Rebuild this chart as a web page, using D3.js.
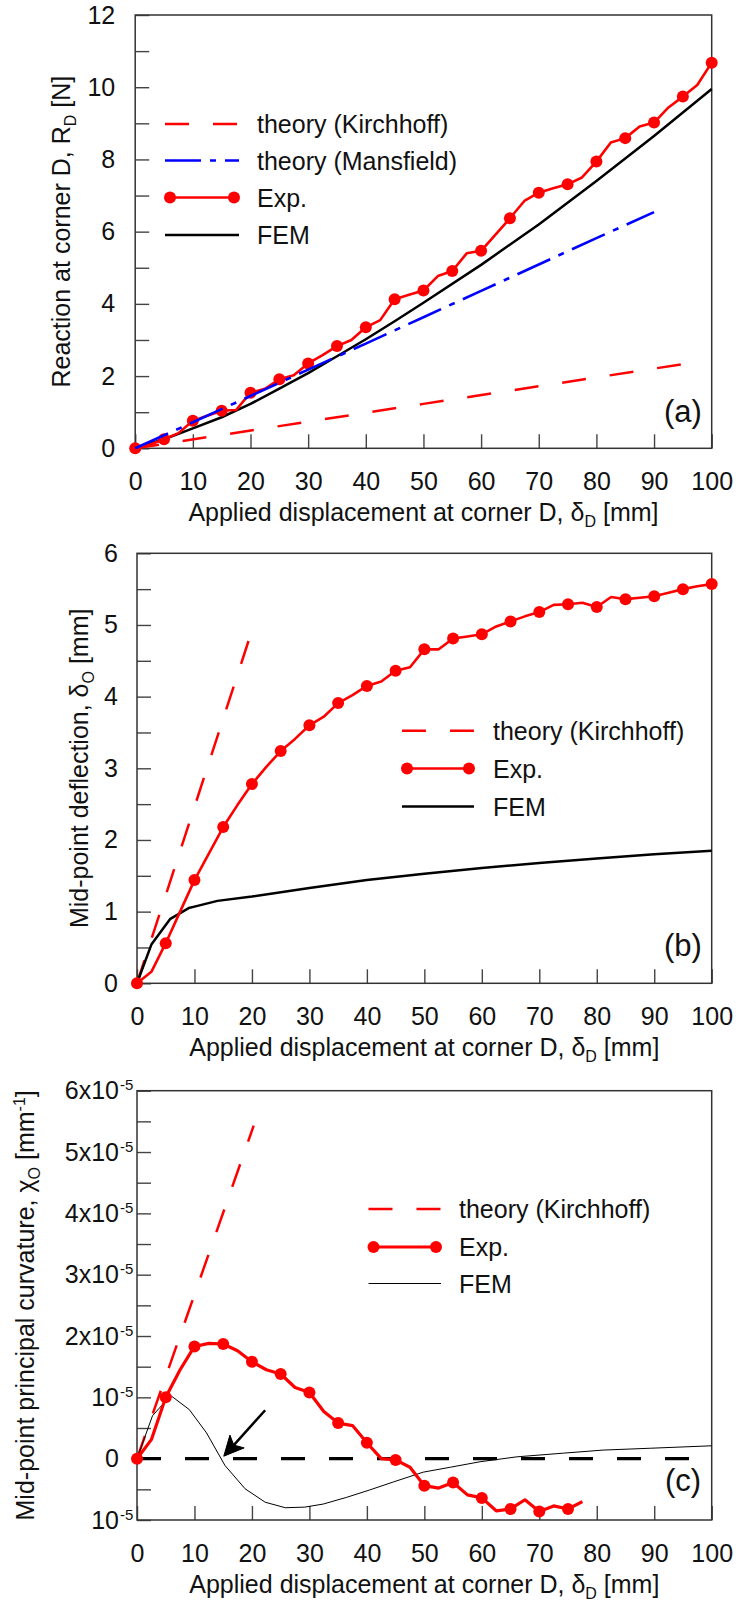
<!DOCTYPE html>
<html>
<head>
<meta charset="utf-8">
<script src="https://cdn.jsdelivr.net/npm/d3@7"></script>
<style>
  html, body { margin: 0; padding: 0; background: #fff; }
  svg { display: block; font-family: "Liberation Sans", Arial, sans-serif; }
</style>
</head>
<body>
<svg id="chart" width="736" height="1602"></svg>
<script>
// ---------------- data ----------------
// shared x axis: applied displacement at corner D [mm]
const xTicks = [0, 10, 20, 30, 40, 50, 60, 70, 80, 90, 100];

// (a) reaction at corner D [N]
const yTicksA = [0, 1, 2, 3, 4, 5, 6, 7, 8, 9, 10, 11, 12];
const yLabelsA = [0, 2, 4, 6, 8, 10, 12];

const kirchA_x = [0, 50, 95];
const kirchA_y = [0, 1.23, 2.33];

const mansA_x = [0, 10, 20, 30, 40, 50, 60, 70, 80, 90];
const mansA_y = [0, 0.72, 1.45, 2.18, 2.9, 3.63, 4.36, 5.09, 5.82, 6.54];

const expA_x = [0, 2.5, 5, 7.5, 10, 12.5, 15, 17.5, 20, 22.5, 25, 27.5, 30, 32.5, 35, 37.5, 40,
  42.5, 45, 47.5, 50, 52.5, 55, 57.5, 60, 62.5, 65, 67.5, 70, 72.5, 75, 77.5, 80, 82.5, 85,
  87.5, 90, 92.5, 95, 97.5, 100];
const expA_y = [0, 0.1, 0.25, 0.42, 0.76, 0.9, 1.04, 1.06, 1.54, 1.65, 1.91, 2.02, 2.35, 2.58,
  2.83, 3.0, 3.35, 3.55, 4.13, 4.25, 4.37, 4.77, 4.91, 5.4, 5.47, 5.92, 6.37, 6.85, 7.08, 7.2,
  7.31, 7.5, 7.94, 8.47, 8.59, 8.91, 9.02, 9.44, 9.74, 10.06, 10.68];

const femA_x = [0, 5, 10, 15, 20, 25, 30, 35, 40, 45, 50, 60, 70, 80, 90, 100];
const femA_y = [0, 0.25, 0.55, 0.86, 1.23, 1.65, 2.08, 2.55, 3.02, 3.52, 4.03, 5.08, 6.2, 7.4, 8.65, 9.95];

// (b) mid-point deflection [mm]
const yTicksB = [0, 0.5, 1, 1.5, 2, 2.5, 3, 3.5, 4, 4.5, 5, 5.5, 6];
const yLabelsB = [0, 1, 2, 3, 4, 5, 6];

const kirchB_x = [0, 19.5];
const kirchB_y = [0, 4.8];

const expB_x = expA_x;
const expB_y = [0, 0.16, 0.56, 1.0, 1.44, 1.81, 2.18, 2.49, 2.78, 3.02, 3.24, 3.41, 3.6, 3.72,
  3.91, 4.02, 4.15, 4.21, 4.36, 4.41, 4.66, 4.66, 4.81, 4.84, 4.87, 4.98, 5.05, 5.12, 5.18,
  5.28, 5.29, 5.31, 5.25, 5.39, 5.36, 5.38, 5.4, 5.45, 5.5, 5.54, 5.57];

const femB_x = [0, 2.5, 5.8, 9, 10, 14, 20, 30, 40, 50, 60, 70, 80, 90, 100];
const femB_y = [0, 0.54, 0.9, 1.05, 1.07, 1.15, 1.21, 1.33, 1.44, 1.53, 1.61, 1.68, 1.74, 1.8, 1.85];

// (c) mid-point principal curvature [1/mm]
const yTicksC = [-1e-5, -0.5e-5, 0, 0.5e-5, 1e-5, 1.5e-5, 2e-5, 2.5e-5, 3e-5, 3.5e-5, 4e-5,
  4.5e-5, 5e-5, 5.5e-5, 6e-5];
const yLabelValsC = [-1e-5, 0, 1e-5, 2e-5, 3e-5, 4e-5, 5e-5, 6e-5];
const yLabelBaseC = ["10", "0", "10", "2x10", "3x10", "4x10", "5x10", "6x10"];
const yLabelExpC = ["-5", "", "-5", "-5", "-5", "-5", "-5", "-5"];

const kirchC_x = [0, 20.3];
const kirchC_y = [0, 5.43e-5];

const expC_x = [0, 2.5, 5, 7.5, 10, 12.5, 15, 17.5, 20, 22.5, 25, 27.5, 30, 32.5, 35, 37.5, 40,
  42.5, 45, 47.5, 50, 52.5, 55, 57.5, 60, 62.5, 65, 67.5, 70, 72.5, 75, 77.5];
const expC_y = [0, 0.31e-5, 1.0e-5, 1.45e-5, 1.83e-5, 1.88e-5, 1.87e-5, 1.76e-5, 1.58e-5,
  1.45e-5, 1.38e-5, 1.16e-5, 1.08e-5, 0.77e-5, 0.58e-5, 0.54e-5, 0.26e-5, 0.0, -0.02e-5,
  -0.14e-5, -0.44e-5, -0.48e-5, -0.39e-5, -0.59e-5, -0.64e-5, -0.85e-5, -0.82e-5, -0.67e-5,
  -0.86e-5, -0.77e-5, -0.82e-5, -0.7e-5];

const femC_x = [0, 2.7, 4.9, 6, 9.1, 12.1, 15.3, 18.8, 22.3, 25.8, 29.2, 32.4, 36.5, 40.5, 44.6,
  49.8, 54.5, 59.7, 66.1, 74.2, 81.1, 89.3, 100];
const femC_y = [0, 0.7e-5, 0.93e-5, 1.02e-5, 0.8e-5, 0.42e-5, -0.11e-5, -0.49e-5, -0.71e-5,
  -0.8e-5, -0.79e-5, -0.74e-5, -0.63e-5, -0.51e-5, -0.38e-5, -0.22e-5, -0.14e-5, -0.05e-5,
  0.03e-5, 0.09e-5, 0.14e-5, 0.17e-5, 0.21e-5];

const zeroC_x = [0, 100];
const zeroC_y = [0, 0];

// arrow pointing at the FEM sign change (tail, tip) in data units
const arrowC = { x0: 22.3, y0: 0.79e-5, x1: 15.1, y1: 0.04e-5 };

// ---------------- styles ----------------
const RED = "#ff0000", BLUE = "#0000ff", BLACK = "#000000";
const FONT = 25;
const styles = {
  kirch: { color: RED, width: 2.5, dash: "24,24" },
  mans: { color: BLUE, width: 2.6, dash: "36,9,6,9" },
  exp: { color: RED, width: 2.6, marker: 6 },
  expC: { color: RED, width: 3.2, marker: 6 },
  fem: { color: BLACK, width: 2.5 },
  femThin: { color: BLACK, width: 1 },
  zero: { color: BLACK, width: 3.4, dash: "24,24" }
};

const svg = d3.select("#chart");

function addRichText(sel, parts) {
  // parts: [text, kind] where kind is "", "sub" or "sup"
  let shift = 0;
  parts.forEach(([t, kind]) => {
    const target = kind === "sub" ? 6 : kind === "sup" ? -9 : 0;
    sel.append("tspan")
      .attr("dy", target - shift)
      .attr("font-size", kind ? 16 : FONT)
      .text(t);
    shift = target;
  });
}

function drawSeries(g, x, y, xs, ys, st, markerEvery) {
  const pts = xs.map((d, i) => [d, ys[i]]);
  g.append("path")
    .datum(pts)
    .attr("d", d3.line().x(d => x(d[0])).y(d => y(d[1])))
    .attr("fill", "none")
    .attr("stroke", st.color)
    .attr("stroke-width", st.width)
    .attr("stroke-dasharray", st.dash || null)
    .attr("stroke-linejoin", "round");
  if (st.marker) {
    g.selectAll(null)
      .data(pts.filter(d => d[0] % markerEvery === 0))
      .join("circle")
      .attr("cx", d => x(d[0]))
      .attr("cy", d => y(d[1]))
      .attr("r", st.marker)
      .attr("fill", st.color);
  }
}

function drawLegend(g, items, lx0, lx1, tx, rows) {
  items.forEach((it, i) => {
    const yy = rows[i];
    g.append("line")
      .attr("x1", lx0).attr("x2", lx1).attr("y1", yy).attr("y2", yy)
      .attr("stroke", it.style.color)
      .attr("stroke-width", it.style.width)
      .attr("stroke-dasharray", it.style.dash || null);
    if (it.style.marker) {
      [lx0 + 5, lx1 - 5].forEach(cx => g.append("circle")
        .attr("cx", cx).attr("cy", yy).attr("r", it.style.marker).attr("fill", it.style.color));
    }
    g.append("text")
      .attr("x", tx).attr("y", yy).attr("dy", "0.36em")
      .attr("font-size", FONT).attr("fill", "#111")
      .text(it.label);
  });
}

function panel(cfg) {
  const g = svg.append("g");
  const x = d3.scaleLinear().domain([0, 100]).range([cfg.left, cfg.right]);
  const y = d3.scaleLinear().domain(cfg.yDomain).range([cfg.bottom, cfg.top]);

  // x axis, ticks pointing into the plot
  const gx = g.append("g")
    .attr("transform", `translate(0,${cfg.bottom})`)
    .call(d3.axisBottom(x).tickValues(xTicks).tickSizeInner(-14).tickSizeOuter(0)
      .tickPadding(24).tickFormat(d3.format("d")));
  gx.select(".domain").remove();
  gx.attr("font-size", FONT).attr("font-family", null);
  gx.selectAll(".tick line").attr("stroke", "#444").attr("stroke-width", 1.4);
  gx.selectAll(".tick text").attr("fill", "#111");

  // y axis, ticks pointing into the plot; labels only on major values
  const gy = g.append("g")
    .attr("transform", `translate(${cfg.left},0)`)
    .call(d3.axisLeft(y).tickValues(cfg.yTicks).tickSizeInner(-14).tickSizeOuter(0)
      .tickPadding(cfg.labelPad).tickFormat(() => ""));
  gy.select(".domain").remove();
  gy.attr("font-size", FONT).attr("font-family", null);
  gy.selectAll(".tick line").attr("stroke", "#444").attr("stroke-width", 1.4);
  gy.selectAll(".tick").each(function (d) {
    const idx = cfg.yLabelVals.findIndex(v => Math.abs(v - d) < 1e-12);
    const t = d3.select(this).select("text");
    if (idx < 0) return;
    t.attr("fill", "#111").text(cfg.yLabelBase[idx]);
    const ex = cfg.yLabelExp ? cfg.yLabelExp[idx] : "";
    if (ex) {
      d3.select(this).append("text")
        .attr("x", -cfg.labelPad + 1).attr("y", 0).attr("dy", "-0.05em")
        .attr("font-size", 15).attr("fill", "#111").attr("text-anchor", "start")
        .text(ex);
    }
  });

  // plot frame
  g.append("rect")
    .attr("x", cfg.left).attr("y", cfg.top)
    .attr("width", cfg.right - cfg.left).attr("height", cfg.bottom - cfg.top)
    .attr("fill", "none").attr("stroke", "#333").attr("stroke-width", 1.5);

  // x axis title
  const xt = g.append("text")
    .attr("x", (cfg.left + cfg.right) / 2).attr("y", cfg.bottom + 73)
    .attr("text-anchor", "middle").attr("font-size", FONT).attr("fill", "#111");
  addRichText(xt, [["Applied displacement at corner D, \u03b4", ""], ["D", "sub"], [" [mm]", ""]]);

  // y axis title
  const yt = g.append("text")
    .attr("transform", `translate(${cfg.yTitleX},${(cfg.top + cfg.bottom) / 2}) rotate(-90)`)
    .attr("y", 9).attr("text-anchor", "middle").attr("font-size", FONT).attr("fill", "#111");
  addRichText(yt, cfg.yTitle);

  // panel tag
  g.append("text")
    .attr("x", 683).attr("y", cfg.tagY).attr("dy", "0.36em")
    .attr("text-anchor", "middle").attr("font-size", 31).attr("fill", "#111")
    .text(cfg.tag);

  return { g, x, y };
}

// ---------------- (a) ----------------
{
  const { g, x, y } = panel({
    left: 135.2, right: 711.7, top: 15, bottom: 448.3,
    yDomain: [0, 12], yTicks: yTicksA,
    yLabelVals: yLabelsA, yLabelBase: yLabelsA.map(String), labelPad: 20,
    yTitleX: 61,
    yTitle: [["Reaction at corner D, R", ""], ["D", "sub"], [" [N]", ""]],
    tag: "(a)", tagY: 411
  });
  drawSeries(g, x, y, kirchA_x, kirchA_y, styles.kirch);
  drawSeries(g, x, y, femA_x, femA_y, styles.fem);
  drawSeries(g, x, y, expA_x, expA_y, styles.exp, 5);
  drawSeries(g, x, y, mansA_x, mansA_y, styles.mans);
  drawLegend(g, [
    { label: "theory (Kirchhoff)", style: styles.kirch },
    { label: "theory (Mansfield)", style: styles.mans },
    { label: "Exp.", style: styles.exp },
    { label: "FEM", style: styles.fem }
  ], 165, 239, 257, [124, 160.5, 197.5, 235]);
}

// ---------------- (b) ----------------
{
  const { g, x, y } = panel({
    left: 137, right: 711.7, top: 553.3, bottom: 983.3,
    yDomain: [0, 6], yTicks: yTicksB,
    yLabelVals: yLabelsB, yLabelBase: yLabelsB.map(String), labelPad: 19,
    yTitleX: 79,
    yTitle: [["Mid-point deflection, \u03b4", ""], ["O", "sub"], [" [mm]", ""]],
    tag: "(b)", tagY: 945
  });
  drawSeries(g, x, y, kirchB_x, kirchB_y, styles.kirch);
  drawSeries(g, x, y, femB_x, femB_y, styles.fem);
  drawSeries(g, x, y, expB_x, expB_y, styles.exp, 5);
  drawLegend(g, [
    { label: "theory (Kirchhoff)", style: styles.kirch },
    { label: "Exp.", style: styles.exp },
    { label: "FEM", style: styles.fem }
  ], 402, 474, 493, [730.7, 768.5, 806.5]);
}

// ---------------- (c) ----------------
{
  const { g, x, y } = panel({
    left: 137, right: 711.7, top: 1090.7, bottom: 1520,
    yDomain: [-1e-5, 6e-5], yTicks: yTicksC,
    yLabelVals: yLabelValsC, yLabelBase: yLabelBaseC, yLabelExp: yLabelExpC, labelPad: 18,
    yTitleX: 25,
    yTitle: [["Mid-point principal curvature, \u03c7", ""], ["O", "sub"], [" [mm", ""], ["-1", "sup"], ["]", ""]],
    tag: "(c)", tagY: 1480
  });
  drawSeries(g, x, y, kirchC_x, kirchC_y, styles.kirch);
  drawSeries(g, x, y, femC_x, femC_y, styles.femThin);
  drawSeries(g, x, y, zeroC_x, zeroC_y, styles.zero);
  drawSeries(g, x, y, expC_x, expC_y, styles.expC, 5);

  // arrow
  const ax0 = x(arrowC.x0), ay0 = y(arrowC.y0), ax1 = x(arrowC.x1), ay1 = y(arrowC.y1);
  const ang = Math.atan2(ay0 - ay1, ax0 - ax1);
  const headLen = 22, spread = 0.45;
  const w1 = [ax1 + headLen * Math.cos(ang + spread), ay1 + headLen * Math.sin(ang + spread)];
  const w2 = [ax1 + headLen * Math.cos(ang - spread), ay1 + headLen * Math.sin(ang - spread)];
  const notch = [ax1 + 15 * Math.cos(ang), ay1 + 15 * Math.sin(ang)];
  g.append("line")
    .attr("x1", ax0).attr("y1", ay0).attr("x2", notch[0]).attr("y2", notch[1])
    .attr("stroke", BLACK).attr("stroke-width", 2.5);
  g.append("path")
    .attr("d", `M${ax1},${ay1}L${w1[0]},${w1[1]}L${notch[0]},${notch[1]}L${w2[0]},${w2[1]}Z`)
    .attr("fill", BLACK).attr("stroke", BLACK).attr("stroke-width", 1).attr("stroke-linejoin", "miter");

  drawLegend(g, [
    { label: "theory (Kirchhoff)", style: styles.kirch },
    { label: "Exp.", style: styles.expC },
    { label: "FEM", style: styles.femThin }
  ], 368.5, 441, 459, [1209, 1247, 1283.5]);
}
</script>
</body>
</html>
